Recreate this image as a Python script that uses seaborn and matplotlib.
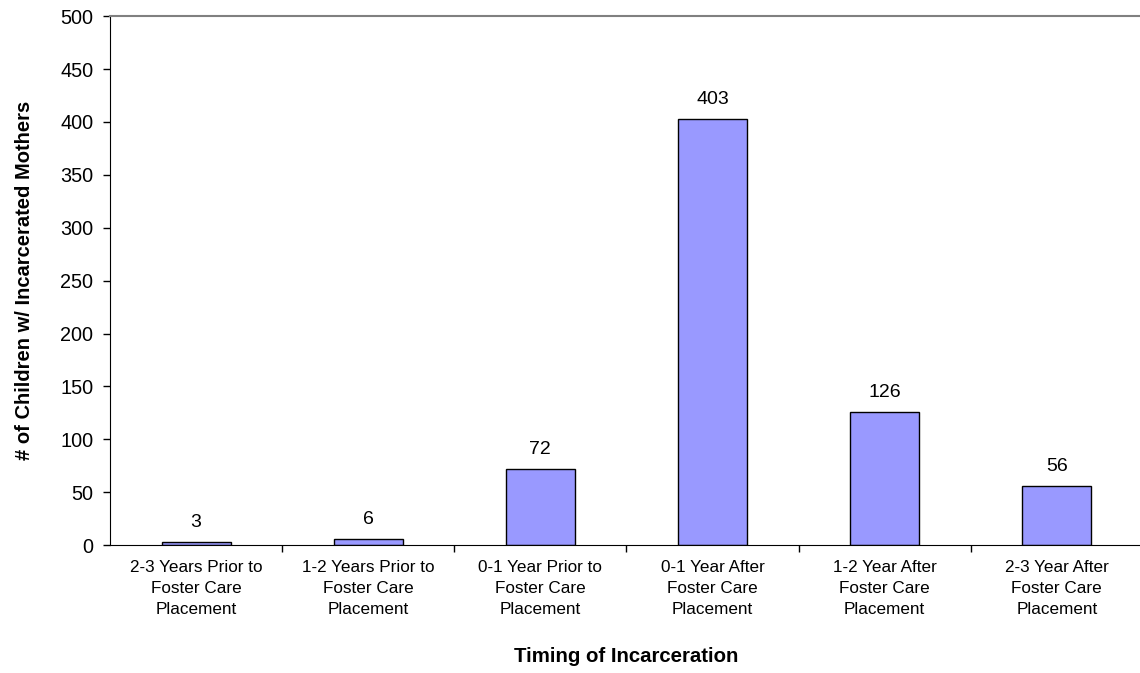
import matplotlib
matplotlib.use("Agg")
import matplotlib.pyplot as plt
import seaborn as sns
import pandas as pd
import numpy as np
from matplotlib.ticker import FixedLocator, MultipleLocator

# === DATOS ===
categorias = [
    "2-3 Years Prior to\nFoster Care\nPlacement",
    "1-2 Years Prior to\nFoster Care\nPlacement",
    "0-1 Year Prior to\nFoster Care\nPlacement",
    "0-1 Year After\nFoster Care\nPlacement",
    "1-2 Year After\nFoster Care\nPlacement",
    "2-3 Year After\nFoster Care\nPlacement",
]
ninos = [3, 6, 72, 403, 126, 56]

COLOR_BARRA = '#9999FF'

sns.set_style("white")
plt.rcParams['font.family'] = ['Liberation Sans', 'DejaVu Sans']
plt.rcParams['text.color'] = 'black'
plt.rcParams['axes.labelcolor'] = 'black'
plt.rcParams['xtick.color'] = 'black'
plt.rcParams['ytick.color'] = 'black'

df = pd.DataFrame({'cat': categorias, 'n': ninos})

fig = plt.figure(figsize=(11.4, 6.73), dpi=100)
ax = fig.add_axes([0.0965, 0.19, 0.906, 0.786])

sns.barplot(data=df, x='cat', y='n', color=COLOR_BARRA, width=0.4,
            edgecolor='black', linewidth=1.0, saturation=1, ax=ax)

ax.bar_label(ax.containers[0], labels=[str(v) for v in ninos],
             padding=8, fontsize=14)

ax.set_ylim(0, 500)
ax.set_xlim(-0.5, len(categorias) - 0.5)
ax.yaxis.set_major_locator(MultipleLocator(50))

# ticks entre categorias
ax.xaxis.set_major_locator(FixedLocator(range(len(categorias))))
ax.set_xticklabels(categorias, fontsize=12.3, linespacing=1.5)
ax.xaxis.set_minor_locator(FixedLocator(np.arange(0.5, len(categorias) - 0.5, 1)))
ax.tick_params(axis='x', which='major', length=0, pad=11)
ax.tick_params(axis='x', which='minor', length=5, width=1, color='black', direction='out', bottom=True)
ax.tick_params(axis='y', length=5, width=1, color='black', direction='out', left=True,
               labelsize=14.3, pad=7)

ax.spines['left'].set_color('black')
ax.spines['bottom'].set_color('black')
ax.spines['top'].set_color('#808080')
ax.spines['top'].set_linewidth(1.5)
ax.spines['right'].set_visible(False)

ax.set_xlabel('Timing of Incarceration', fontsize=14.7, fontweight='bold', labelpad=21)
ax.set_ylabel('# of Children w/ Incarcerated Mothers', fontsize=14.5, fontweight='bold', labelpad=19)

fig.savefig('out.png', dpi=100)
